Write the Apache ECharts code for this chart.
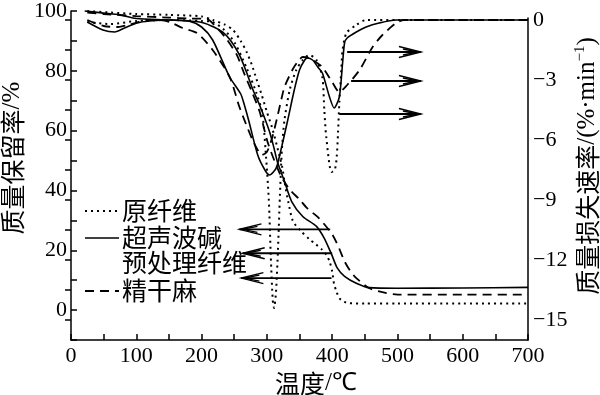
<!DOCTYPE html>
<html><head><meta charset="utf-8">
<script src="https://cdn.jsdelivr.net/npm/echarts@6/dist/echarts.min.js"></script>
<style>html,body{margin:0;padding:0;background:#fff}#c{width:600px;height:395px}</style>
</head><body><div id="c"></div>
<script>
// ---- data ----
const seriesNames = ['原纤维', '超声波碱预处理纤维', '精干麻'];
const xTicks = [0, 100, 200, 300, 400, 500, 600, 700];
const leftTicks = [0, 20, 40, 60, 80, 100];
const rightTicks = [0, -3, -6, -9, -12, -15];

// TG (mass retention, %)
const tgRawT = [25, 60, 100, 150, 200, 217, 235, 248, 260, 269, 277, 284, 292, 300, 308, 315, 320, 324, 327, 333, 340, 352, 365, 375, 384, 391, 396, 400, 403, 407, 411, 418, 426, 450, 500, 600, 700];
const tgRawV = [100, 99.5, 99, 98.7, 98.2, 97, 95.5, 93.7, 90, 86.3, 82, 77.3, 72, 66.3, 61, 55.3, 51, 47.3, 43, 36, 29.7, 26.5, 23.7, 22, 20.3, 18.5, 16.3, 13, 8.7, 6, 4, 2.8, 2.3, 2.2, 2.2, 2.2, 2.2];

const tgUltraT = [21, 50, 75, 100, 150, 197, 215, 232, 245, 258, 268, 278, 288, 297, 304, 310, 316, 322, 327, 338, 355, 376, 388, 399, 408, 419, 437, 457, 500, 600, 700];
const tgUltraV = [100, 99.3, 98.7, 97.5, 97, 96.3, 95, 93, 90, 85.3, 80, 74, 69, 64, 59.7, 55, 49.7, 46, 43, 36.3, 31.3, 28, 24, 18.7, 14, 11.3, 9, 7.5, 7.3, 7.4, 7.6];

const tgDegT = [25, 50, 100, 150, 180, 208, 225, 238, 254, 266, 277, 289, 301, 312, 322, 335, 350, 362, 380, 400, 410, 419, 428, 437, 457, 483, 500, 600, 700];
const tgDegV = [99.5, 99, 98.3, 97.8, 97.5, 97.3, 94, 90.7, 85.3, 78.7, 73, 66.3, 56.3, 49.7, 44.7, 40.3, 37, 34, 30.7, 25.3, 21, 16.3, 13, 10.7, 7.3, 5.7, 5.2, 5.2, 5.2];

// DTG (mass loss rate, %/min)
const dtgRawT = [25, 60, 100, 150, 200, 217, 235, 251, 269, 284, 293, 298, 303, 306, 309, 311, 314, 317, 320, 323, 327, 335, 345, 355, 365, 376, 385, 388, 391, 399, 404, 407, 409, 411, 414, 416, 422, 437, 452, 500, 600, 700];
const dtgRawV = [-0.1, -0.2, -0.05, 0, -0.05, -0.1, -0.5, -1.15, -2.4, -3.65, -4.65, -6.5, -9, -11.8, -14, -14.4, -13.6, -11.5, -8.8, -6.5, -5, -3.5, -2.5, -2.0, -1.75, -2.0, -2.85, -4.5, -5.85, -7.6, -7.5, -6.85, -5.65, -4.15, -2.5, -1.5, -0.65, -0.25, 0, 0, 0, 0];

const dtgUltraT = [25, 49, 67, 82, 101, 120, 150, 180, 200, 217, 243, 260, 266, 272, 286, 297, 304, 310, 315, 323, 332, 342, 350, 358, 362, 370, 378, 385, 396, 403, 411, 416, 419, 423, 437, 452, 472, 498, 600, 700];
const dtgUltraV = [-0.1, -0.5, -0.6, -0.4, -0.15, -0.05, 0, -0.05, -0.35, -1.0, -2.85, -3.7, -4.3, -5.0, -6.75, -7.5, -7.75, -7.6, -7.35, -6.3, -5, -3.5, -2.5, -2.0, -1.9, -2.0, -2.35, -2.65, -3.85, -4.4, -3.85, -2.15, -1.15, -0.9, -0.6, -0.35, -0.15, 0, 0, 0];

const dtgDegT = [25, 50, 72, 87, 98, 115, 135, 151, 171, 193, 217, 243, 258, 268, 278, 286, 292, 300, 308, 316, 322, 327, 339, 347, 355, 365, 375, 385, 400, 411, 423, 442, 462, 477, 498, 510, 600, 700];
const dtgDegV = [0, -0.3, -0.35, -0.25, -0.15, 0, 0, -0.1, -0.4, -0.65, -1.5, -2.85, -4.35, -5.2, -6.0, -6.5, -6.75, -6.6, -5.9, -4.85, -4.0, -3.35, -2.5, -2.1, -1.85, -1.9, -2.1, -2.35, -3.1, -3.6, -3.25, -2.5, -1.35, -0.75, -0.15, 0, 0, 0];

// annotation arrows: [fromT, fromY, toT, toY] in data units
const tgArrows = [[397, 27, 258, 27], [400, 19, 263, 19], [399, 10.7, 261, 10.7]];
const dtgArrows = [[423, -1.6, 536, -1.6], [429, -3.05, 536, -3.05], [411, -4.7, 536, -4.7]];

// ---- chart ----
const zip = (a, b) => a.map((t, i) => [t, b[i]]);
const serif = 'Liberation Serif';
const cjk = 'Noto Sans CJK SC';
const DOT = { color: '#000', width: 2, type: [2, 4] };
const SOLID = { color: '#000', width: 1.6, type: 'solid' };
const DASH = { color: '#000', width: 1.8, type: [9, 6] };

const chart = echarts.init(document.getElementById('c'), null, { renderer: 'canvas' });
const tickStyle = { show: true, inside: true, length: 6, lineStyle: { color: '#000', width: 1.5 } };
const lineStyleAxis = { show: true, onZero: false, lineStyle: { color: '#000', width: 1.5 } };
const labelBase = { color: '#000', fontFamily: serif, fontSize: 22 };

function mkLine(name, data, style, xi, yi) {
  return { type: 'line', name, data, xAxisIndex: xi, yAxisIndex: yi, showSymbol: false, symbol: 'none',
    smooth: 0.25, lineStyle: style, clip: false, silent: true, animation: false };
}

chart.setOption({
  animation: false,
  backgroundColor: '#fff',
  grid: [
    { left: 71, right: 72, top: 9, bottom: 55 },
    { left: 71, right: 72, top: 20, bottom: 75 },
    { left: 71, right: 72, top: 18, bottom: 55 }
  ],
  xAxis: [
    { gridIndex: 0, type: 'value', min: 0, max: 700, interval: 50,
      axisLine: lineStyleAxis, axisTick: tickStyle, splitLine: { show: false },
      axisLabel: Object.assign({ margin: 5, formatter: v => xTicks.includes(v) ? String(v) : '' }, labelBase) },
    { gridIndex: 1, type: 'value', min: 0, max: 700, show: false },
    { gridIndex: 2, type: 'value', min: 0, max: 700, show: false }
  ],
  yAxis: [
    { gridIndex: 0, type: 'value', position: 'left', min: -10, max: 100, interval: 10,
      axisLine: lineStyleAxis, axisTick: tickStyle, splitLine: { show: false },
      axisLabel: Object.assign({ margin: 4, formatter: v => leftTicks.includes(v) ? String(v) : '' }, labelBase) },
    { gridIndex: 1, type: 'value', position: 'right', min: -15, max: 0, interval: 1.5,
      axisLine: { show: false }, axisTick: tickStyle, splitLine: { show: false },
      axisLabel: Object.assign({ margin: 5, formatter: v => {
        const r = Math.round(v);
        if (Math.abs(r - v) > 1e-6 || !rightTicks.includes(r)) return '';
        return r === 0 ? '0' : '\u2212' + Math.abs(r);
      } }, labelBase) },
    { gridIndex: 2, type: 'value', position: 'right', min: 0, max: 1,
      axisLine: lineStyleAxis, axisTick: { show: false }, axisLabel: { show: false }, splitLine: { show: false } }
  ],
  series: [
    mkLine(seriesNames[0] + ' TG', zip(tgRawT, tgRawV), DOT, 0, 0),
    mkLine(seriesNames[1] + ' TG', zip(tgUltraT, tgUltraV), SOLID, 0, 0),
    mkLine(seriesNames[2] + ' TG', zip(tgDegT, tgDegV), DASH, 0, 0),
    mkLine(seriesNames[0] + ' DTG', zip(dtgRawT, dtgRawV), DOT, 1, 1),
    mkLine(seriesNames[1] + ' DTG', zip(dtgUltraT, dtgUltraV), SOLID, 1, 1),
    mkLine(seriesNames[2] + ' DTG', zip(dtgDegT, dtgDegV), DASH, 1, 1)
  ]
});

// ---- annotations (titles, legend, arrows) ----
function arrow(p0, p1) {
  const dir = p1[0] < p0[0] ? -1 : 1;
  const L = 22, W = 5.5;
  const st = { stroke: '#000', lineWidth: 1.4, fill: null };
  return [
    { type: 'line', shape: { x1: p0[0], y1: p0[1], x2: p1[0], y2: p1[1] }, style: { stroke: '#000', lineWidth: 1.8 } },
    { type: 'polyline', shape: { points: [[p1[0] - dir * L, p1[1] - W], [p1[0], p1[1]], [p1[0] - dir * L, p1[1] + W]] }, style: st },
    { type: 'polyline', shape: { points: [[p1[0] - dir * (L - 4), p1[1] - W + 2.5], [p1[0] - dir * 3, p1[1]], [p1[0] - dir * (L - 4), p1[1] + W - 2.5]] }, style: st }
  ];
}
const g = [];
tgArrows.forEach(a => {
  g.push(...arrow(chart.convertToPixel({ gridIndex: 0 }, [a[0], a[1]]), chart.convertToPixel({ gridIndex: 0 }, [a[2], a[3]])));
});
dtgArrows.forEach(a => {
  g.push(...arrow(chart.convertToPixel({ gridIndex: 1 }, [a[0], a[1]]), chart.convertToPixel({ gridIndex: 1 }, [a[2], a[3]])));
});

// legend
const legendItems = [
  { text: '原纤维', y: 210, line: DOT },
  { text: '超声波碱', y: 237, line: SOLID },
  { text: '预处理纤维', y: 262, line: null },
  { text: '精干麻', y: 290, line: DASH }
];
legendItems.forEach(it => {
  g.push({ type: 'text', x: 122, y: it.y, style: { text: it.text, fontFamily: cjk, fontSize: 25, fill: '#000', verticalAlign: 'middle' } });
  if (it.line) {
    g.push({ type: 'line', shape: { x1: 85, y1: it.y + 1, x2: 119, y2: it.y + 1 },
      style: { stroke: '#000', lineWidth: it.line.width, lineDash: Array.isArray(it.line.type) ? it.line.type : null } });
  }
});

// axis titles
const richT = {
  a: { fontFamily: cjk, fontSize: 25, fill: '#000', color: '#000', lineHeight: 28 },
  b: { fontFamily: serif, fontSize: 25, fill: '#000', color: '#000', lineHeight: 28 },
  c: { fontFamily: serif, fontSize: 15, fill: '#000', color: '#000', lineHeight: 28, verticalAlign: 'top', padding: [0, 0, 12, 0] }
};
g.push({ type: 'text', x: 12, y: 158, rotation: Math.PI / 2,
  style: { text: '{a|质量保留率}{b|/%}', rich: richT, fill: '#000', align: 'center', verticalAlign: 'middle' } });
g.push({ type: 'text', x: 587, y: 166, rotation: Math.PI / 2,
  style: { text: '{a|质量损失速率}{b|/(%·min}{c|\u22121}{b|)}', rich: richT, fill: '#000', align: 'center', verticalAlign: 'middle' } });
g.push({ type: 'text', x: 316, y: 383,
  style: { text: '{a|温度}{b|/℃}', rich: richT, fill: '#000', align: 'center', verticalAlign: 'middle' } });

chart.setOption({ graphic: g });
</script>
</body></html>
